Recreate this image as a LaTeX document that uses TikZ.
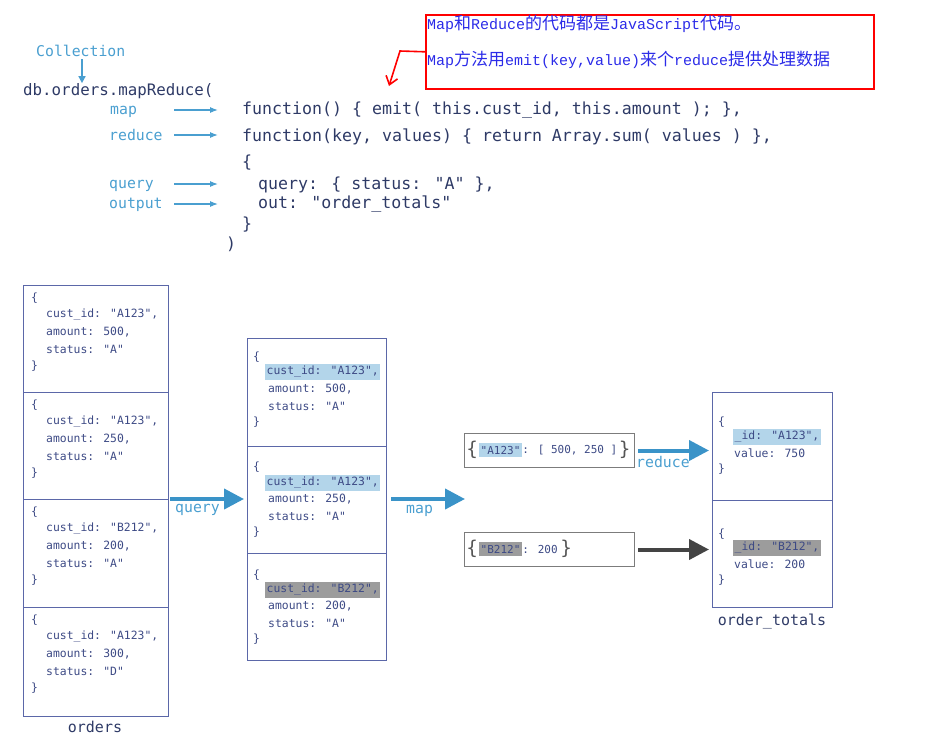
\documentclass[tikz,border=0pt]{standalone}
\usepackage{fontspec}
\setmainfont{DejaVu Sans}
\newfontfamily\codefont{DejaVu Sans Mono}
\newfontfamily\cjkfont{Noto Sans CJK SC}
\newfontfamily\lmono{Liberation Mono}
\usetikzlibrary{arrows.meta}
\definecolor{navy}{HTML}{2E3A66}
\definecolor{docblue}{HTML}{3D4A85}
\definecolor{boxline}{HTML}{5B67A8}
\definecolor{lblue}{HTML}{4A9FD0}
\definecolor{arrblue}{HTML}{3A93C8}
\definecolor{hlblue}{HTML}{B3D5EA}
\definecolor{hlgray}{HTML}{9C9C9C}
\definecolor{darr}{HTML}{444444}
\definecolor{cnblue}{HTML}{2B2BE8}
\definecolor{bracegray}{HTML}{555555}
\newcommand\cnt[1]{{\cjkfont\fontsize{17}{18}\selectfont #1}}
\newcommand\ent[1]{{\lmono\fontsize{15}{18}\selectfont #1}}
\tikzset{
  code/.style={font=\codefont\fontsize{16.6}{18}\selectfont, text=navy, anchor=west, inner sep=0pt},
  lab/.style={font=\codefont\fontsize{14.8}{16}\selectfont, text=lblue, anchor=west, inner sep=0pt},
  collcap/.style={font=\codefont\fontsize{15}{16}\selectfont, text=navy, inner sep=0pt},
  doc/.style={font=\codefont\fontsize{11.4}{12}\selectfont, text=docblue, anchor=west, inner sep=0pt},
  keydoc/.style={font=\codefont\fontsize{11}{12}\selectfont, text=docblue, anchor=west, inner sep=0pt},
  hla/.style={doc, fill=hlblue, inner xsep=1.5pt, inner ysep=2.5pt},
  hlg/.style={doc, fill=hlgray, inner xsep=1.5pt, inner ysep=2.5pt},
  brace/.style={font=\fontsize{19}{20}\selectfont, text=bracegray, inner sep=0pt},
  coll/.style={draw=boxline, line width=1pt, anchor=north west, inner sep=0pt},
  keybox/.style={draw=darr!70, line width=1pt, anchor=north west, inner sep=0pt, minimum width=170pt, minimum height=34pt},
  thinarr/.style={draw=lblue, line width=1.1pt, -{Latex[length=8pt,width=6pt]}},
  bigarr/.style={draw=arrblue, line width=4pt, -{Triangle[length=20pt,width=20pt]}},
  darkarr/.style={draw=darr, line width=4pt, -{Triangle[length=20pt,width=20pt]}},
  redarr/.style={draw=red, line width=1.6pt, -{Straight Barb[length=8pt,width=12pt]}}
}
\begin{document}
\begin{tikzpicture}[x=1pt,y=-1pt]
\useasboundingbox (0,0) rectangle (946,745);
% note box
\node[draw=red, line width=1.6pt, anchor=north west, minimum width=448pt, minimum height=74pt, inner sep=0pt] (redbox) at (425,14) {};
\node[anchor=west, inner sep=0pt, text=cnblue] (cn1) at (427,24) {\ent{Map}\cnt{和}\ent{Reduce}\cnt{的代码都是}\ent{JavaScript}\cnt{代码。}};
\node[anchor=west, inner sep=0pt, text=cnblue] (cn2) at (427,60) {\ent{Map}\cnt{方法用}\ent{emit(key,value)}\cnt{来个}\ent{reduce}\cnt{提供处理数据}};
\coordinate (rbend) at (400,51);
\coordinate (rtip) at (389,86);
\draw[redarr] (redbox.west) -- (rbend) -- (rtip);
% code
\node[lab] (collection) at (36,51) {Collection};
\node[code, font=\codefont\fontsize{15.8}{18}\selectfont] (db) at (23,91) {db.orders.mapReduce(};
\draw[draw=lblue, line width=1.5pt, -{Triangle[length=7pt,width=7pt]}] (82,59) -- (db.north -| 82,0);
\node[lab] (lmap) at (110,112) {map};
\node[lab] (lreduce) at (109,135) {reduce};
\node[lab] (lquery) at (109,186) {query};
\node[lab] (loutput) at (109,205) {output};
\node[code] (c1) at (242,110) {function() \{ emit( this.cust\_id, this.amount ); \},};
\node[code] (c2) at (242,137) {function(key, values) \{ return Array.sum( values ) \},};
\node[code] (c3) at (242,163) {\{};
\node[code] (c4) at (258,185) {query: \{ status: "A" \},};
\node[code] (c5) at (258,204) {out: "order\_totals"};
\node[code] (c6) at (242,225) {\}};
\node[code] (c7) at (226,244) {)};
\draw[thinarr] (174,110) -- (218,110);
\draw[thinarr] (174,135) -- (218,135);
\draw[thinarr] (174,184) -- (218,184);
\draw[thinarr] (174,204) -- (218,204);
% orders collection
\node[coll, minimum width=145pt, minimum height=431pt] (orders) at (23,285) {};
\draw[boxline, line width=1pt] (23,392) -- (168,392) (23,499) -- (168,499) (23,607) -- (168,607);
\foreach \t/\c/\a/\s [count=\i] in {285/A123/500/A, 392/A123/250/A, 499/B212/200/A, 607/A123/300/D} {
  \node[doc] (o\i a) at (31,\t+13) {\{};
  \node[doc] (o\i b) at (46,\t+30) {cust\_id: "\c",};
  \node[doc] (o\i c) at (46,\t+47) {amount: \a,};
  \node[doc] (o\i d) at (46,\t+64) {status: "\s"};
  \node[doc] (o\i e) at (31,\t+81) {\}};
}
\node[collcap] (lorders) at (95,727) {orders};
% query arrow
\coordinate (q1) at (170,499);
\coordinate (q2) at (244,499);
\draw[bigarr] (q1) -- (q2);
\node[lab] (tquery) at (175,510) {query};
% middle (filtered)
\node[coll, minimum width=139pt, minimum height=322pt] (mid) at (247,338) {};
\draw[boxline, line width=1pt] (247,446) -- (386,446) (247,553) -- (386,553);
\node[doc] (m1a) at (253,357) {\{};
\node[hla] (m1b) at (265,372) {cust\_id: "A123",};
\node[doc] (m1c) at (268,389) {amount: 500,};
\node[doc] (m1d) at (268,406) {status: "A"};
\node[doc] (m1e) at (253,422) {\}};
\node[doc] (m2a) at (253,467) {\{};
\node[hla] (m2b) at (265,483) {cust\_id: "A123",};
\node[doc] (m2c) at (268,499) {amount: 250,};
\node[doc] (m2d) at (268,516) {status: "A"};
\node[doc] (m2e) at (253,532) {\}};
\node[doc] (m3a) at (253,575) {\{};
\node[hlg] (m3b) at (265,590) {cust\_id: "B212",};
\node[doc] (m3c) at (268,606) {amount: 200,};
\node[doc] (m3d) at (268,623) {status: "A"};
\node[doc] (m3e) at (253,639) {\}};
% map arrow
\coordinate (p1) at (391,499);
\coordinate (p2) at (465,499);
\draw[bigarr] (p1) -- (p2);
\node[lab] (tmap) at (406,511) {map};
% key boxes
\node[keybox] (k1) at (464,433) {};
\node[brace, anchor=west] (k1o) at (466,450) {\{};
\node[hla, keydoc, anchor=west, inner xsep=1.5pt, inner ysep=2.5pt] (k1k) at (479,450) {"A123"};
\node[keydoc] (k1v) at (k1k.east) {: [ 500, 250 ]};
\node[brace, anchor=west] (k1c) at ([xshift=1pt]k1v.east) {\}};
\node[keybox] (k2) at (464,532) {};
\node[brace, anchor=west] (k2o) at (466,549) {\{};
\node[hlg, keydoc, anchor=west, inner xsep=1.5pt, inner ysep=2.5pt] (k2k) at (479,549) {"B212"};
\node[keydoc] (k2v) at (k2k.east) {: 200};
\node[brace, anchor=west] (k2c) at ([xshift=2pt]k2v.east) {\}};
% reduce arrows
\node[coll, minimum width=120pt, minimum height=215pt] (out) at (712,392) {};
\draw[boxline, line width=1pt] (712,500) -- (832,500);
\draw[bigarr] ([xshift=3pt]k1.east) -- ([xshift=-3pt]out.west |- k1.east);
\node[lab] (treduce) at (636,462) {reduce};
\draw[darkarr] ([xshift=3pt]k2.east) -- ([xshift=-3pt]out.west |- k2.east);
% output documents
\node[doc] (r1a) at (718,422) {\{};
\node[hla] (r1b) at (733,437) {\_id: "A123",};
\node[doc] (r1c) at (734,453) {value: 750};
\node[doc] (r1e) at (718,469) {\}};
\node[doc] (r2a) at (718,534) {\{};
\node[hlg] (r2b) at (733,548) {\_id: "B212",};
\node[doc] (r2c) at (734,564) {value: 200};
\node[doc] (r2e) at (718,580) {\}};
\node[collcap] (ltotals) at (772,622) {order\_totals};
\end{tikzpicture}
\end{document}
